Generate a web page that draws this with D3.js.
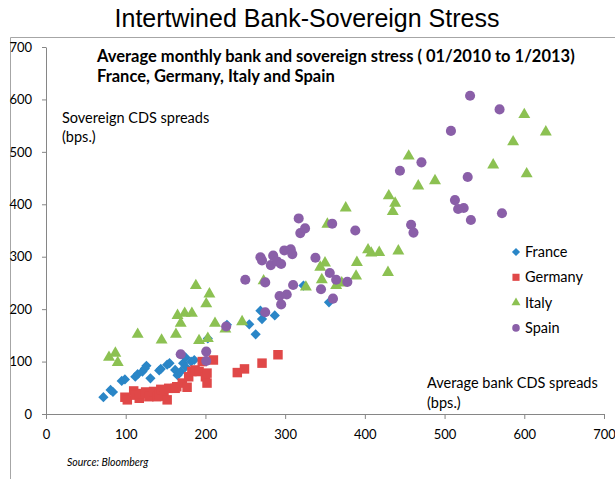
<!DOCTYPE html>
<html>
<head>
<meta charset="utf-8">
<script src="https://cdn.jsdelivr.net/npm/d3@7"></script>
<style>
  body { margin: 0; background: #fff; }
  svg { display: block; }
  text { font-family: "Lato", "Liberation Sans", sans-serif; }
</style>
</head>
<body>
<svg id="chart" width="615" height="479"></svg>
<script>
// average monthly CDS spreads, [bank, sovereign] in bps
const france = [[72,32],[81,46],[84,42],[95,63],[99,66],[112,71],[115,76],[121,81],[124,87],[126,92],[131,68],[142,83],[144,86],[152,94],[155,97],[162,84],[165,74],[169,81],[172,97],[175,90],[175,108],[182,100],[186,103],[203,144],[227,170],[255,171],[263,152],[269,197],[271,181],[287,188],[323,245],[355,213]];
const germany = [[99,32],[102,27],[110,44],[112,36],[117,30],[120,39],[125,42],[129,33],[135,43],[139,33],[142,38],[144,47],[148,34],[152,27],[154,49],[162,49],[164,52],[171,59],[177,51],[179,71],[183,81],[187,84],[192,81],[196,100],[200,71],[202,59],[202,78],[210,103],[240,79],[249,86],[271,97],[291,113]];
const italy = [[79,108],[87,116],[90,98],[115,152],[145,141],[163,152],[165,188],[169,173],[174,192],[183,192],[188,245],[192,140],[201,210],[203,144],[205,229],[212,173],[225,162],[246,176],[273,254],[326,242],[344,280],[346,256],[350,288],[353,362],[364,245],[371,250],[376,393],[389,263],[390,289],[404,313],[408,307],[418,308],[429,270],[430,416],[435,386],[438,402],[442,311],[455,492],[467,435],[488,445],[561,475],[586,519],[600,571],[603,458],[627,538]];
const spain = [[169,114],[201,119],[201,101],[226,167],[250,256],[269,299],[271,293],[275,251],[275,194],[282,284],[285,302],[290,291],[293,225],[295,286],[295,209],[299,312],[302,228],[307,314],[309,305],[310,246],[317,373],[319,345],[325,354],[338,298],[345,238],[356,269],[359,363],[360,220],[364,256],[378,252],[388,350],[444,464],[458,361],[461,346],[471,480],[508,540],[513,408],[517,391],[524,393],[529,452],[532,607],[533,370],[569,581],[572,383]];

const seriesNames = ["France", "Germany", "Italy", "Spain"];
const seriesData = [france, germany, italy, spain];
const colors = ["#2a86c7", "#e04848", "#8cc152", "#8a5fa8"];
const shapes = ["diamond", "square", "triangle", "circle"];
const xTicks = [0, 100, 200, 300, 400, 500, 600, 700];
const yTicks = [0, 100, 200, 300, 400, 500, 600, 700];

const svg = d3.select("#chart");

const x = d3.scaleLinear().domain([0, 700]).range([46, 604]);
const y = d3.scaleLinear().domain([0, 700]).range([414, 47]);

// frame
svg.append("line").attr("x1", 10.5).attr("x2", 615).attr("y1", 37.5).attr("y2", 37.5).attr("stroke", "#a6a6a6");
svg.append("line").attr("x1", 10.5).attr("x2", 10.5).attr("y1", 37.5).attr("y2", 479).attr("stroke", "#a6a6a6");

svg.append("text").attr("x", 307).attr("y", 27).attr("text-anchor", "middle")
  .style("font-family", "'Liberation Sans', Arial, sans-serif").style("font-size", "25px")
  .text("Intertwined Bank-Sovereign Stress");

// axes
const xAxis = svg.append("g").attr("transform", "translate(0,414)")
  .call(d3.axisBottom(x).tickValues(xTicks).tickSize(5).tickSizeOuter(0).tickPadding(11));
const yAxis = svg.append("g").attr("transform", "translate(46,0)")
  .call(d3.axisLeft(y).tickValues(yTicks).tickSize(4).tickSizeOuter(0).tickPadding(10));
[xAxis, yAxis].forEach(a => {
  a.selectAll("path, line").attr("stroke", "#868686");
  a.selectAll("text").attr("fill", "#000").style("font-size", "13px");
});

function markerPath(shape) {
  if (shape === "diamond") return d3.symbol(d3.symbolSquare, 52)();
  if (shape === "square") return d3.symbol(d3.symbolSquare, 90)();
  if (shape === "triangle") return d3.symbol(d3.symbolTriangle, 62)();
  return d3.symbol(d3.symbolCircle, 80)();
}

seriesData.forEach((data, i) => {
  svg.append("g").selectAll("path").data(data).join("path")
    .attr("d", markerPath(shapes[i]))
    .attr("transform", d => "translate(" + x(d[0]) + "," + y(d[1]) + ")" + (shapes[i] === "diamond" ? " rotate(45)" : ""))
    .attr("fill", colors[i]);
});

// legend
const legend = svg.append("g");
seriesNames.forEach((name, i) => {
  const ly = 252 + i * 25.3;
  legend.append("path").attr("d", markerPath(shapes[i]))
    .attr("transform", "translate(516," + ly + ")" + (shapes[i] === "diamond" ? " rotate(45) scale(0.8)" : " scale(0.75)"))
    .attr("fill", colors[i]);
  legend.append("text").attr("x", 525).attr("y", ly + 5).style("font-size", "14.5px").text(name);
});

// annotations
svg.append("text").attr("x", 97).attr("y", 62).style("font-size", "16.5px").style("font-weight", "bold")
  .text("Average monthly bank and sovereign stress ( 01/2010 to 1/2013)");
svg.append("text").attr("x", 97).attr("y", 82).style("font-size", "16.5px").style("font-weight", "bold")
  .text("France, Germany, Italy and Spain");
svg.append("text").attr("x", 62).attr("y", 123).style("font-size", "14.5px").text("Sovereign CDS spreads");
svg.append("text").attr("x", 62).attr("y", 142).style("font-size", "14.5px").text("(bps.)");
svg.append("text").attr("x", 427).attr("y", 388).style("font-size", "14.5px").text("Average bank CDS spreads");
svg.append("text").attr("x", 427).attr("y", 408).style("font-size", "14.5px").text("(bps.)");
svg.append("text").attr("x", 67).attr("y", 466).style("font-size", "10.5px").style("font-style", "italic").text("Source: Bloomberg");
</script>
</body>
</html>
